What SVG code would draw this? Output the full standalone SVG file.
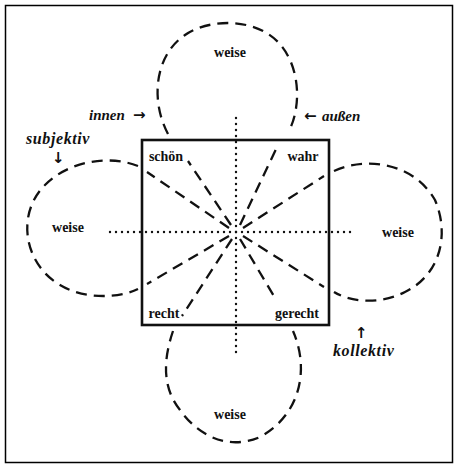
<svg xmlns="http://www.w3.org/2000/svg" width="458" height="468" viewBox="0 0 458 468">
<style>
.frame{fill:none;stroke:#000;stroke-width:1.5}
.sq{fill:none;stroke:#111;stroke-width:2.6}
.petal{fill:none;stroke:#111;stroke-width:2.3;stroke-dasharray:11 7;stroke-linecap:butt}
.dot{fill:none;stroke:#111;stroke-width:2.4;stroke-dasharray:0 6;stroke-linecap:round}
.w{font-family:"Liberation Serif",serif;font-weight:bold;font-size:14px;fill:#111;text-anchor:middle}
.it{font-family:"Liberation Serif",serif;font-style:italic;font-weight:bold;font-size:15px;fill:#111}
.ar{font-family:"DejaVu Sans",sans-serif;font-weight:bold;font-size:15px;fill:#111}
</style>
<rect class="frame" x="5.5" y="5.5" width="447" height="457"/>
<g id="connectors">
<path class="dot" d="M236,118 V356"/>
<path class="dot" d="M110,232 H354"/>
</g>
<g id="square">
<rect class="sq" x="142" y="140" width="187" height="185"/>
</g>
<g id="petal-top">
<path class="petal" d="M231,225 L188,161"/>
<path class="petal" d="M240,225 L278,145"/>
<path class="petal" d="M168,134 C150,100 155,55 185,35 C210,18 255,18 278,42 C300,65 302,105 289,131"/>
<text class="w" x="230" y="57">weise</text>
</g>
<g id="petal-left">
<path class="petal" d="M229,228 L147,172"/>
<path class="petal" d="M229,236 L147,284"/>
<path class="petal" d="M138,166 C110,155 70,160 45,185 C15,215 25,265 60,285 C85,300 120,298 138,289"/>
<text class="w" x="68" y="232">weise</text>
</g>
<g id="petal-right">
<path class="petal" d="M243,228 L324,176"/>
<path class="petal" d="M243,236 L324,287"/>
<path class="petal" d="M334,171 C370,155 415,165 435,200 C450,235 440,275 405,292 C380,305 350,302 334,292"/>
<text class="w" x="398" y="237">weise</text>
</g>
<g id="petal-bottom">
<path class="petal" d="M232,239 L182,316"/>
<path class="petal" d="M240,239 L275,298"/>
<path class="petal" d="M173,331 C165,355 160,385 180,410 C200,438 230,450 260,437 C300,415 310,370 293,331"/>
<text class="w" x="230" y="419">weise</text>
</g>
<g id="corner-labels">
<text class="w" x="166" y="161">schön</text>
<text class="w" x="303" y="161">wahr</text>
<text class="w" x="164" y="318">recht</text>
<text class="w" x="297" y="318">gerecht</text>
</g>
<g id="side-labels">
<text class="it" x="89" y="120">innen</text>
<text class="ar" x="133" y="120">→</text>
<text class="ar" x="304" y="121">←</text>
<text class="it" x="322" y="121">außen</text>
<text class="it" x="26" y="144" style="font-size:16px;letter-spacing:0.6px">subjektiv</text>
<text class="ar" x="52" y="163">↓</text>
<text class="ar" x="355" y="338">↑</text>
<text class="it" x="333" y="356" style="font-size:16px;letter-spacing:0.6px">kollektiv</text>
</g>
</svg>
